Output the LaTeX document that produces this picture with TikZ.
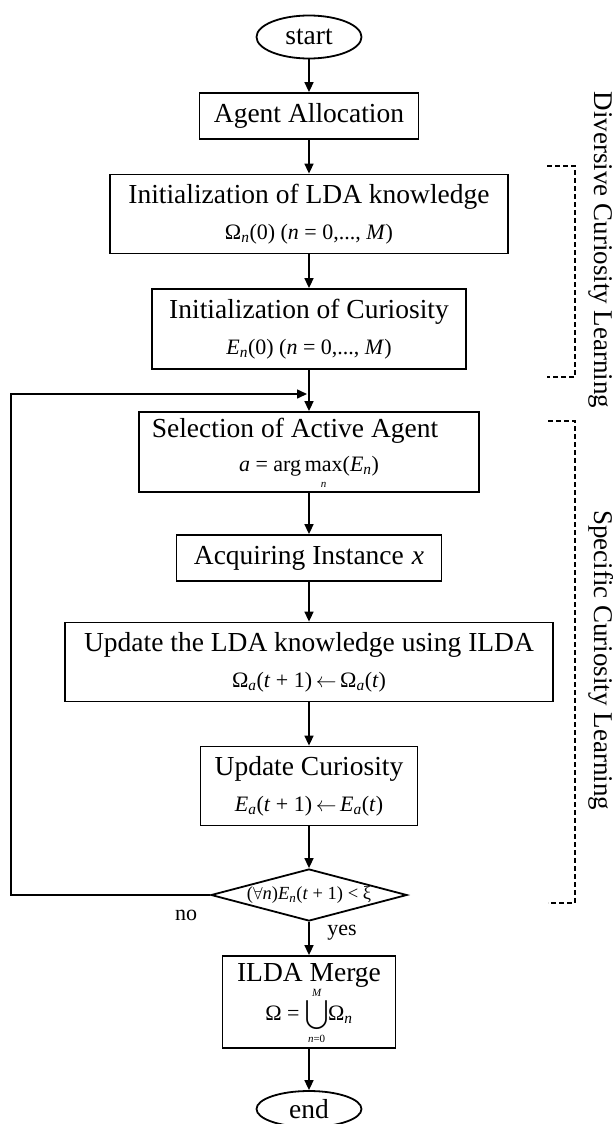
\documentclass[tikz,border=0pt]{standalone}
\usepackage{amsmath}
\usepackage{fontspec}
\setmainfont{Liberation Serif}
\usetikzlibrary{arrows.meta,shapes.geometric}

% italic letters and subscripts for the formulas
\newcommand{\mi}[1]{\textit{#1}}
\newcommand{\lsub}[1]{\textsubscript{\itshape #1}}
\newcommand{\fml}{\fontsize{22}{26}\selectfont}
\newcommand{\limfont}{\fontsize{11}{11}\selectfont\itshape}
\newcommand{\larr}{\,$\leftarrow$\,}

\tikzset{
  box/.style={draw, line width=1.8pt, rectangle, inner sep=0pt, align=center,
              font=\fontsize{27.5}{33}\selectfont},
  term/.style={draw, line width=1.8pt, ellipse, inner sep=0pt,
               minimum width=105pt, minimum height=43pt,
               font=\fontsize{27.5}{33}\selectfont},
  decision/.style={draw, line width=1.8pt, diamond, inner sep=0pt, aspect=3.77,
                   minimum width=196pt, minimum height=52pt,
                   font=\fontsize{18.5}{22}\selectfont},
  flow/.style={line width=1.6pt, -{Triangle[length=10pt,width=9pt]}},
  bracket/.style={line width=1.3pt, dash pattern=on 5pt off 3pt},
  sidelabel/.style={rotate=-90, font=\fontsize{27}{32}\selectfont},
  small/.style={font=\fontsize{22}{26}\selectfont},
  plain/.style={inner sep=0pt, font=\fontsize{27.5}{33}\selectfont}
}

\begin{document}
\begin{tikzpicture}[x=1pt, y=-1pt]
\useasboundingbox (0,0) rectangle (614,1124);

% process column
\node[term] (start) at (309,37) {start};
\node[box, minimum width=219pt, minimum height=46pt] (alloc) at (309,116) {Agent Allocation};
\node[box, minimum width=398pt, minimum height=79pt] (initlda) at (309,214)
  {Initialization of LDA knowledge\\[3pt]
   {\fml Ω\lsub{n}(0) (\mi{n} = 0,..., \mi{M})}};
\node[box, minimum width=314pt, minimum height=80pt] (initcur) at (309,329)
  {Initialization of Curiosity\\[3pt]
   {\fml \mi{E}\lsub{n}(0) (\mi{n} = 0,..., \mi{M})}};
\node[box, minimum width=340pt, minimum height=80pt] (select) at (309,452)
  {Selection of Active Agent\hspace*{28pt}\\[1pt]
   {\fml \mi{a} = arg\,$\mathop{\hbox{max}}\limits_{\smash{\raisebox{-4pt}{\limfont n}}}$(\mi{E}\lsub{n})}};
\node[box, minimum width=265pt, minimum height=46pt] (acq) at (309,558)
  {Acquiring Instance\hspace{8pt}\mi{x}};
\node[box, minimum width=488pt, minimum height=79pt] (upd) at (309,662)
  {Update the LDA knowledge using ILDA\\[3pt]
   {\fml Ω\lsub{a}(\mi{t} + 1)\larr Ω\lsub{a}(\mi{t})}};
\node[box, minimum width=217pt, minimum height=79pt] (updcur) at (309,786)
  {Update Curiosity\\[3pt]
   {\fml \mi{E}\lsub{a}(\mi{t} + 1)\larr\mi{E}\lsub{a}(\mi{t})}};
\node[decision] (dec) at (309,895)
  {($\forall$\mi{n})\mi{E}\lsub{n}(\mi{t} + 1) < ξ};
\node[box, minimum width=173pt, minimum height=92pt] (merge) at (309,1002) {};
\node[plain] (mergetitle) at (309,975) {ILDA Merge};
\node[plain] (mergeeq) at (309,1019)
  {\fml Ω = $\displaystyle\bigcup\limits_{\raisebox{6pt}{\limfont n\upshape =0}}^{\raisebox{-4pt}{\limfont M}}$Ω\lsub{n}};
\node[term, minimum height=36pt] (end) at (309,1109) {end};

% connectors
\coordinate (join) at (309,394);
\coordinate (loopcorner) at (11,895);
\draw[flow] (start) -- (alloc);
\draw[flow] (alloc) -- (initlda);
\draw[flow] (initlda) -- (initcur);
\draw[flow] (initcur) -- (select);
\draw[flow] (select) -- (acq);
\draw[flow] (acq) -- (upd);
\draw[flow] (upd) -- (updcur);
\draw[flow] (updcur) -- (dec);
\draw[flow] (dec) -- (merge);
\draw[flow] (merge) -- (end);
\draw[flow, shorten >=2pt] (dec.west) -- (loopcorner) |- (join);

\node[small] (no) at (186,915) {no};
\node[small] (yes) at (342,933) {yes};

% phase brackets
\coordinate (b1a) at (547,166);
\coordinate (b1b) at (575,166);
\coordinate (b1c) at (575,377);
\coordinate (b1d) at (547,377);
\draw[bracket] (b1a) -- (b1b) -- (b1c) -- (b1d);
\coordinate (b2a) at (548,421);
\coordinate (b2b) at (575,421);
\coordinate (b2c) at (575,903);
\coordinate (b2d) at (548,903);
\draw[bracket] (b2a) -- (b2b) -- (b2c) -- (b2d);

\node[sidelabel] (dcl) at (601,250) {Diversive Curiosity Learning};
\node[sidelabel] (scl) at (601,660) {Specific Curiosity Learning};
\end{tikzpicture}
\end{document}
